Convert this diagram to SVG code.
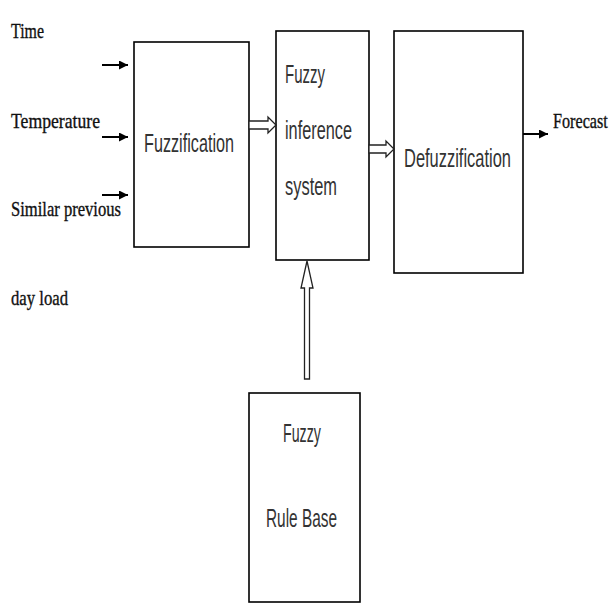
<svg xmlns="http://www.w3.org/2000/svg" width="612" height="604" viewBox="0 0 612 604">
  <defs>
    <marker id="arr" viewBox="0 0 10 10" refX="10" refY="5" markerWidth="10" markerHeight="9" markerUnits="userSpaceOnUse" orient="auto">
      <path d="M0,0 L10,5 L0,10 Z" fill="#000"/>
    </marker>
  </defs>
  <style>
    .box { fill: #fff; stroke: #000; stroke-width: 1.6; }
    .lbl { font-family: "Liberation Serif", "Times New Roman", serif; font-size: 21px; fill: #111; stroke: #111; stroke-width: 0.35; }
    .in { font-family: "Liberation Sans", Arial, sans-serif; font-size: 25px; fill: #333; }
    .line { stroke: #000; stroke-width: 2; fill: none; }
    .hollow { fill: #fff; stroke: #222; stroke-width: 1.3; stroke-linejoin: miter; }
  </style>
  <rect width="612" height="604" fill="#fff"/>

  <g id="input-labels">
    <text class="lbl" x="11" y="38" textLength="33" lengthAdjust="spacingAndGlyphs">Time</text>
    <text class="lbl" x="11" y="128" textLength="89" lengthAdjust="spacingAndGlyphs">Temperature</text>
    <text class="lbl" x="11" y="216" textLength="110" lengthAdjust="spacingAndGlyphs">Similar previous</text>
    <text class="lbl" x="11" y="305" textLength="57" lengthAdjust="spacingAndGlyphs">day load</text>
  </g>

  <g id="fuzzification">
    <rect class="box" x="134" y="42" width="115" height="205"/>
    <text class="in" x="144" y="152" textLength="90" lengthAdjust="spacingAndGlyphs">Fuzzification</text>
  </g>

  <g id="fuzzy-inference-system">
    <rect class="box" x="276" y="31" width="93" height="229"/>
    <text class="in" x="285" y="83" textLength="40" lengthAdjust="spacingAndGlyphs">Fuzzy</text>
    <text class="in" x="285" y="139" textLength="67" lengthAdjust="spacingAndGlyphs">inference</text>
    <text class="in" x="285" y="195" textLength="52" lengthAdjust="spacingAndGlyphs">system</text>
  </g>

  <g id="defuzzification">
    <rect class="box" x="394" y="31" width="129" height="242"/>
    <text class="in" x="404" y="167" textLength="107" lengthAdjust="spacingAndGlyphs">Defuzzification</text>
  </g>

  <g id="fuzzy-rule-base">
    <rect class="box" x="249" y="393" width="111" height="209"/>
    <text class="in" x="283" y="442" textLength="38" lengthAdjust="spacingAndGlyphs">Fuzzy</text>
    <text class="in" x="266" y="527" textLength="71" lengthAdjust="spacingAndGlyphs">Rule Base</text>
  </g>

  <g id="output-label">
    <text class="lbl" x="0" y="0" transform="translate(553,128) scale(0.77,1)">Forecast</text>
  </g>

  <g id="connectors">
    <line class="line" x1="102" y1="65" x2="128" y2="65" marker-end="url(#arr)"/>
    <line class="line" x1="102" y1="137" x2="128" y2="137" marker-end="url(#arr)"/>
    <line class="line" x1="102" y1="195" x2="128" y2="195" marker-end="url(#arr)"/>
    <line class="line" x1="523" y1="134" x2="548" y2="134" marker-end="url(#arr)"/>
    <polygon class="hollow" points="249,121 268,121 268,117 276,125 268,133 268,129 249,129"/>
    <polygon class="hollow" points="369,145 386,145 386,141 394,149 386,157 386,153 369,153"/>
    <polygon class="hollow" points="304.5,379 304.5,288 301,288 307,261 313,288 309.5,288 309.5,379"/>
  </g>
</svg>
